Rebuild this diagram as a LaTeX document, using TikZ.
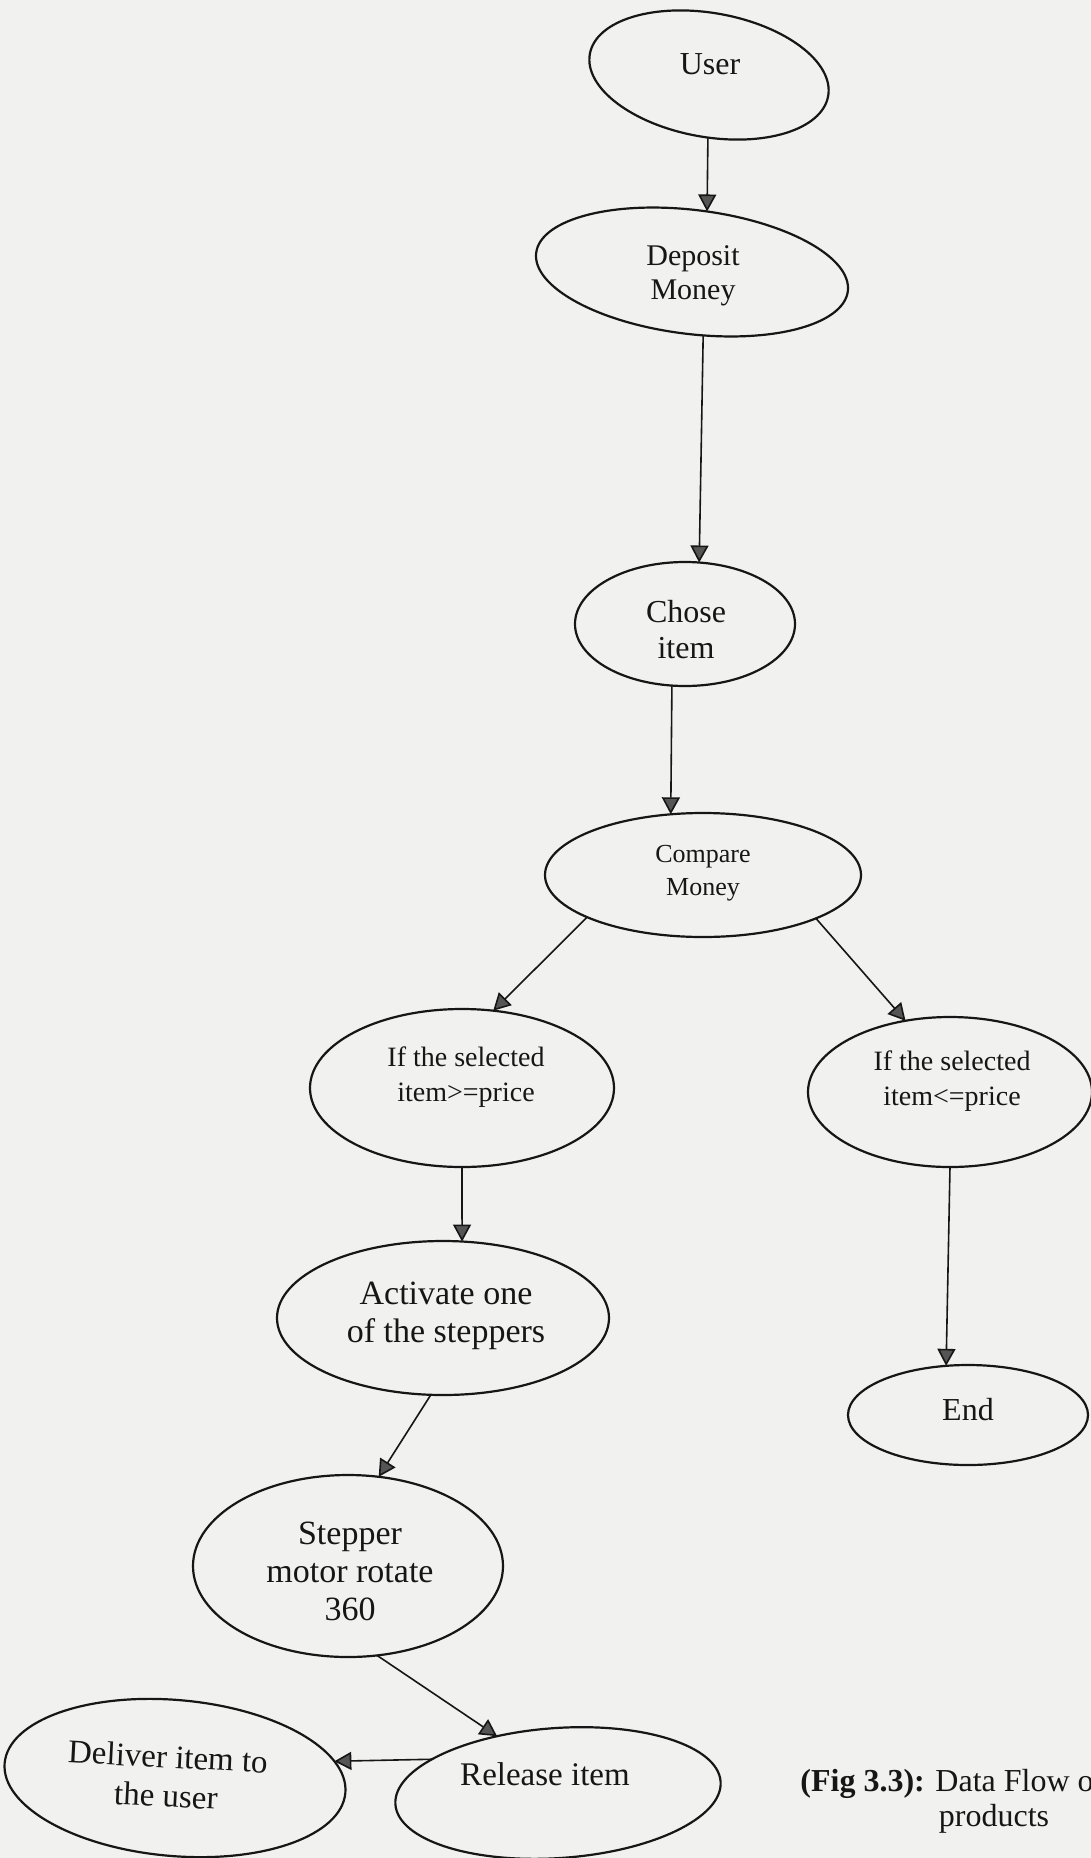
\documentclass[tikz,border=0pt]{standalone}
\usepackage{fontspec}
\setmainfont{Liberation Serif}
\usetikzlibrary{shapes.geometric, arrows.meta}
\definecolor{paper}{RGB}{241,241,239}
\definecolor{ink}{RGB}{22,22,22}
\definecolor{headfill}{RGB}{85,85,85}
\tikzset{
  oval/.style 2 args={ellipse, draw=ink, line width=1.1pt, inner sep=0pt,
    outer sep=0pt, minimum width=#1pt, minimum height=#2pt},
  txt/.style 2 args={align=center, inner sep=0pt, text=ink,
    font=\fontsize{#1}{#2}\selectfont},
  flow/.style={draw=ink, line width=0.8pt,
    -{Triangle[length=8.5pt, width=9pt, fill=headfill]}},
}
\begin{document}
\begin{tikzpicture}[x=0.5pt, y=-0.5pt]
% page
\fill[paper] (0,0) rectangle (1091,1858);
\useasboundingbox (0,0) rectangle (1091,1858);
\clip (0,0) rectangle (1091,1858);

% process ovals (centre, then half-axes, all in px)
\node[oval={121}{62}, rotate=-10] (user)     at (709,75)   {};
\node[oval={157}{62}, rotate=-7]  (deposit)  at (692,272)  {};
\node[oval={110}{62}]             (chose)    at (685,624)  {};
\node[oval={158}{62}]             (compare)  at (703,875)  {};
\node[oval={152}{79}]             (ge)       at (462,1088) {};
\node[oval={142}{75}]             (le)       at (950,1092) {};
\node[oval={166}{77}]             (activate) at (443,1318) {};
\node[oval={120}{50}]             (endn)     at (968,1415) {};
\node[oval={155}{91}]             (stepper)  at (348,1566) {};
\node[oval={163}{65}, rotate=4]   (release)  at (558,1793) {};
\node[oval={171}{78}, rotate=-5]  (deliver)  at (175,1778) {};

% labels
\node[txt={16}{18}]     (userT)     at (710,64)   {User};
\node[txt={15}{17}]     (depositT)  at (693,276)  {Deposit\\Money};
\node[txt={16}{18}]     (choseT)    at (686,630)  {Chose\\item};
\node[txt={13}{16.5}]   (compareT)  at (703,873)  {Compare\\Money};
\node[txt={14}{17.5}]   (geT)       at (466,1077) {If the selected\\item>=price};
\node[txt={14}{17.5}]   (leT)       at (952,1081) {If the selected\\item<=price};
\node[txt={17}{19}]     (activateT) at (446,1316) {Activate one\\of the steppers};
\node[txt={16}{18}]     (endT)      at (968,1410) {End};
\node[txt={17}{19}]     (stepperT)  at (350,1571) {Stepper\\motor rotate\\360};
\node[txt={16.5}{18}]   (releaseT)  at (545,1774) {Release item};
\node[txt={16.5}{19.5}, rotate=-3] (deliverT) at (167,1776) {Deliver item to\\the user};

% caption
\node[txt={16}{20}, anchor=west] (capA) at (800,1784) {\textbf{(Fig 3.3):} Data Flow o};
\node[txt={16}{20}]              (capB) at (994,1819) {products};

% data flow
\draw[flow] (user.-81)      -- (deposit.83);
\draw[flow] (deposit.-73)   -- (chose.77);
\draw[flow] (chose.-102)    -- (compare.118);
\draw[flow] (compare.-160)  -- (ge.68);
\draw[flow] (compare.-21)   -- (le.122);
\draw[flow] (ge.-90)        -- (activate.76);
\draw[flow] (le.-90)        -- (endn.114);
\draw[flow] (activate.-99)  -- (stepper.71);
\draw[flow] (stepper.-72)   -- (release.133);
\draw[flow] (release.161)   -- (deliver.11.5);
\end{tikzpicture}
\end{document}
